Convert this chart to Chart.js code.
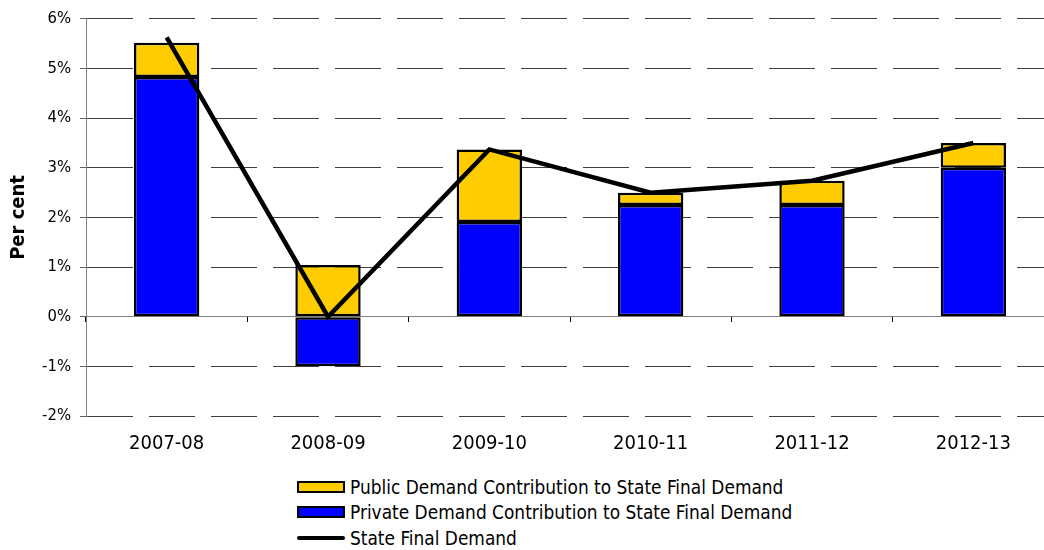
<!DOCTYPE html>
<html>
<head>
<meta charset="utf-8">
<script src="https://cdn.jsdelivr.net/npm/chart.js@4"></script>
<style>
  html, body { margin: 0; padding: 0; background: #fff; overflow: hidden; width: 1044px; height: 550px; }
  #wrap { position: relative; width: 1060px; height: 550px; }
  #chart { position: absolute; left: 0; top: 0; }
  #legend { position: absolute; left: 297px; top: 474px; font-family: "DejaVu Sans Condensed", "DejaVu Sans"; font-size: 18.9px; color: #000; }
  .item { display: flex; align-items: center; height: 25.5px; white-space: nowrap; }
  .swatch { width: 48px; height: 12px; box-sizing: border-box; border: 2.5px solid #000; margin-right: 5px; }
  .lineSwatch { width: 48px; height: 4px; background: #000; border-radius: 2px; margin-right: 5px; }
</style>
</head>
<body>
<div id="wrap">
  <canvas id="chart" width="1060" height="462"></canvas>
  <div id="legend"></div>
</div>
<script>
// Dati (contributi in punti percentuali)
const categories = ['2007-08', '2008-09', '2009-10', '2010-11', '2011-12', '2012-13'];
const privateDemand = [4.83, -1.0, 1.91, 2.25, 2.25, 3.0];
const publicDemand = [0.69, 1.04, 1.46, 0.25, 0.49, 0.50];
const stateFinalDemand = [5.63, 0.0, 3.37, 2.50, 2.74, 3.50];
const yTicks = [-2, -1, 0, 1, 2, 3, 4, 5, 6];

const FONT = '"DejaVu Sans Condensed", "DejaVu Sans"';
Chart.defaults.font.family = FONT;
Chart.defaults.color = '#000';

// linea dello zero continua, le altre tratteggiate
const isZero = ctx => ctx.tick && ctx.tick.value === 0;

const chart = new Chart(document.getElementById('chart'), {
    data: {
        labels: categories,
        datasets: [{
            type: 'bar',
            label: 'Private Demand Contribution to State Final Demand',
            data: privateDemand,
            backgroundColor: '#0000FF',
            borderColor: '#000',
            borderWidth: 2.5,
            borderSkipped: false,
            barPercentage: 0.405,
            categoryPercentage: 1,
            stack: 'demand',
            order: 1
        }, {
            type: 'bar',
            label: 'Public Demand Contribution to State Final Demand',
            data: publicDemand,
            backgroundColor: '#FFCC00',
            borderColor: '#000',
            borderWidth: 2.5,
            borderSkipped: false,
            barPercentage: 0.405,
            categoryPercentage: 1,
            stack: 'demand',
            order: 1
        }, {
            type: 'line',
            label: 'State Final Demand',
            data: stateFinalDemand,
            borderColor: '#000',
            backgroundColor: '#000',
            borderWidth: 4.5,
            pointRadius: 0,
            tension: 0,
            stack: 'sfd',
            order: 0
        }]
    },
    options: {
        responsive: false,
        animation: false,
        layout: { padding: { top: 18, right: 6, bottom: 0, left: 0 } },
        plugins: {
            legend: { display: false },
            tooltip: { enabled: false }
        },
        scales: {
            x: {
                stacked: true,
                grid: { display: false, drawTicks: false },
                border: { display: false },
                ticks: { font: { size: 20 }, color: '#000', padding: 16 },
                afterFit: function(scale) { scale.height = 46; }
            },
            x2: {
                type: 'category',
                position: { y: 0 },
                offset: true,
                grid: { offset: true, drawOnChartArea: false, drawTicks: true, tickLength: 5, tickColor: '#000', color: '#000' },
                ticks: { display: false },
                border: { color: '#808080', width: 1 }
            },
            y: {
                stacked: true,
                min: -2,
                max: 6,
                afterBuildTicks: function(scale) {
                    scale.ticks = yTicks.map(v => ({ value: v }));
                },
                afterFit: function(scale) { scale.width = 86; },
                ticks: {
                    font: { size: 16.5 },
                    color: '#000',
                    padding: 9,
                    callback: v => v + '%'
                },
                grid: {
                    color: ctx => isZero(ctx) ? '#808080' : '#404040',
                    lineWidth: 1,
                    tickLength: 6,
                    tickColor: '#606060',
                    tickBorderDash: []
                },
                border: {
                    color: '#808080',
                    width: 1,
                    dash: ctx => (ctx.tick && !isZero(ctx)) ? [46, 16] : []
                },
                title: {
                    display: true,
                    text: 'Per cent',
                    font: { size: 20, weight: 'bold' },
                    color: '#000',
                    padding: { top: 6.5, bottom: 0 }
                }
            }
        }
    }
});

// Legenda HTML nell'ordine del grafico originale
const legendOrder = [1, 0, 2];
const legendEl = document.getElementById('legend');
legendOrder.forEach(i => {
    const ds = chart.data.datasets[i];
    const row = document.createElement('div');
    row.className = 'item';
    const sw = document.createElement('span');
    if (ds.type === 'line') {
        sw.className = 'lineSwatch';
    } else {
        sw.className = 'swatch';
        sw.style.background = ds.backgroundColor;
    }
    const txt = document.createElement('span');
    txt.textContent = ds.label;
    row.appendChild(sw);
    row.appendChild(txt);
    legendEl.appendChild(row);
});
</script>
</body>
</html>
